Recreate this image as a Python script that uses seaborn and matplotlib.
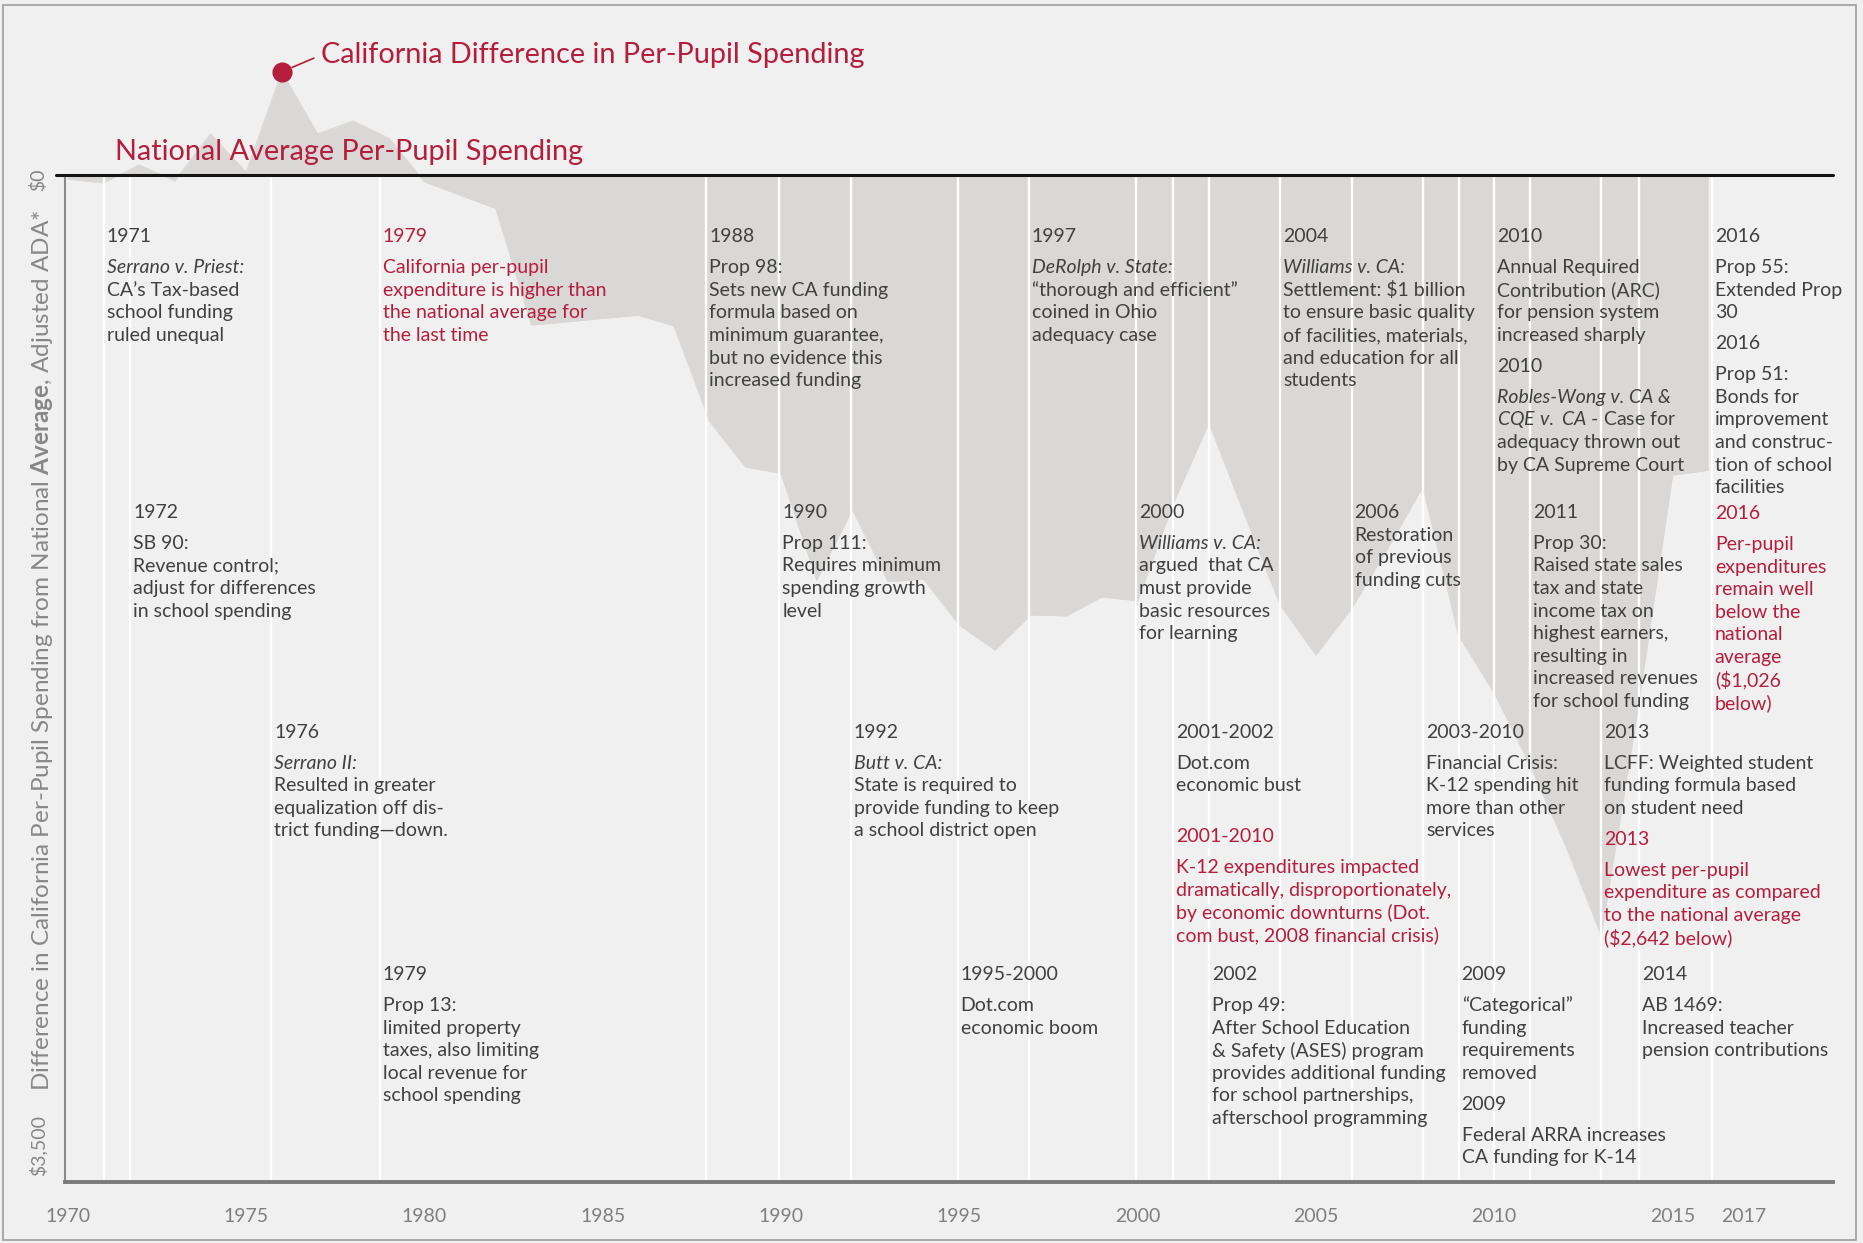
import matplotlib
matplotlib.use("Agg")
import matplotlib.pyplot as plt
from matplotlib.patches import Rectangle
import seaborn as sns

sns.set_style("white")
plt.rcParams["font.family"] = ["Lato", "DejaVu Sans"]
plt.rcParams["mathtext.fontset"] = "custom"
plt.rcParams["mathtext.rm"] = "Lato"
plt.rcParams["mathtext.it"] = "Lato:italic"
plt.rcParams["mathtext.bf"] = "Lato:bold"

BG = "#f0f0f0"
AREA = "#d9d8d6"
RED = "#b41e3c"
INK = "#404040"
GREY = "#878787"

# California per-pupil spending minus national average ($, adjusted ADA)
years = list(range(1970, 2017))
ca_diff = [
    -14, -27, 35, -20, 143, 10, 359, 143, 188, 128,          # 1970-79
    -23, -70, -116, -521, -510, -498, -487, -525, -857, -1014,  # 1980-89
    -1037, -1408, -1162, -1413, -1405, -1564, -1651, -1529, -1532, -1466,  # 1990-99
    -1480, -1140, -861, -1180, -1495, -1668, -1506, -1300, -1083, -1600,  # 2000-09
    -1800, -2050, -2330, -2642, -1880, -1043, -1026,          # 2010-16
]
peak_year = 1976
tick_years = [1970, 1975, 1980, 1985, 1990, 1995, 2000, 2005, 2010, 2015, 2017]

# timeline notes: (marker position, row, lines)
# line kinds: h header, H red header, t header w/o gap, b body, i italic, r red, m mixed
notes = [
    (1971.0, 1, [("h", "1971"), ("i", "Serrano v. Priest:"), ("b", "CA’s Tax-based"),
                 ("b", "school funding"), ("b", "ruled unequal")]),
    (1971.75, 2, [("h", "1972"), ("b", "SB 90:"), ("b", "Revenue control;"),
                  ("b", "adjust for differences"), ("b", "in school spending")]),
    (1975.7, 3, [("h", "1976"), ("i", "Serrano II:"), ("b", "Resulted in greater"),
                 ("b", "equalization off dis-"), ("b", "trict funding—down.")]),
    (1978.75, 1, [("H", "1979"), ("r", "California per-pupil"), ("r", "expenditure is higher than"),
                  ("r", "the national average for"), ("r", "the last time")]),
    (1978.75, 4, [("h", "1979"), ("b", "Prop 13:"), ("b", "limited property"),
                  ("b", "taxes, also limiting"), ("b", "local revenue for"), ("b", "school spending")]),
    (1987.9, 1, [("h", "1988"), ("b", "Prop 98:"), ("b", "Sets new CA funding"),
                 ("b", "formula based on"), ("b", "minimum guarantee,"),
                 ("b", "but no evidence this"), ("b", "increased funding")]),
    (1989.95, 2, [("h", "1990"), ("b", "Prop 111:"), ("b", "Requires minimum"),
                  ("b", "spending growth"), ("b", "level")]),
    (1991.95, 3, [("h", "1992"), ("i", "Butt v. CA:"), ("b", "State is required to"),
                  ("b", "provide funding to keep"), ("b", "a school district open")]),
    (1994.95, 4, [("h", "1995-2000"), ("b", "Dot.com"), ("b", "economic boom")]),
    (1996.95, 1, [("h", "1997"), ("i", "DeRolph v. State:"), ("b", "“thorough and efficient”"),
                  ("b", "coined in Ohio"), ("b", "adequacy case")]),
    (1999.95, 2, [("h", "2000"), ("i", "Williams v. CA:"), ("b", "argued  that CA"),
                  ("b", "must provide"), ("b", "basic resources"), ("b", "for learning")]),
    (2001.0, 3, [("h", "2001-2002"), ("b", "Dot.com"), ("b", "economic bust"), ("gap", 20),
                 ("H", "2001-2010"), ("r", "K-12 expenditures impacted"),
                 ("r", "dramatically, disproportionately,"), ("r", "by economic downturns (Dot."),
                 ("r", "com bust, 2008 financial crisis)")]),
    (2002.0, 4, [("h", "2002"), ("b", "Prop 49:"), ("b", "After School Education"),
                 ("b", "& Safety (ASES) program"), ("b", "provides additional funding"),
                 ("b", "for school partnerships,"), ("b", "afterschool programming")]),
    (2004.0, 1, [("h", "2004"), ("i", "Williams v. CA:"), ("b", r"Settlement: \$1 billion"),
                 ("b", "to ensure basic quality"), ("b", "of facilities, materials,"),
                 ("b", "and education for all"), ("b", "students")]),
    (2006.0, 2, [("t", "2006"), ("b", "Restoration"), ("b", "of previous"), ("b", "funding cuts")]),
    (2008.0, 3, [("h", "2003-2010"), ("b", "Financial Crisis:"), ("b", "K-12 spending hit"),
                 ("b", "more than other"), ("b", "services")]),
    (2009.0, 4, [("h", "2009"), ("b", "“Categorical”"), ("b", "funding"), ("b", "requirements"),
                 ("b", "removed"), ("h", "2009"), ("b", "Federal ARRA increases"),
                 ("b", "CA funding for K-14")]),
    (2010.0, 1, [("h", "2010"), ("b", "Annual Required"), ("b", "Contribution (ARC)"),
                 ("b", "for pension system"), ("b", "increased sharply"), ("h", "2010"),
                 ("i", "Robles-Wong v. CA &"), ("m", r"$\mathit{CQE\ v.\ CA}$ - Case for"),
                 ("b", "adequacy thrown out"), ("b", "by CA Supreme Court")]),
    (2011.0, 2, [("h", "2011"), ("b", "Prop 30:"), ("b", "Raised state sales"),
                 ("b", "tax and state"), ("b", "income tax on"), ("b", "highest earners,"),
                 ("b", "resulting in"), ("b", "increased revenues"), ("b", "for school funding")]),
    (2013.0, 3, [("h", "2013"), ("b", "LCFF: Weighted student"), ("b", "funding formula based"),
                 ("b", "on student need"), ("H", "2013"), ("r", "Lowest per-pupil"),
                 ("r", "expenditure as compared"), ("r", "to the national average"),
                 ("r", r"(\$2,642 below)")]),
    (2014.05, 4, [("h", "2014"), ("b", "AB 1469:"), ("b", "Increased teacher"),
                  ("b", "pension contributions")]),
    (2016.1, 1, [("h", "2016"), ("b", "Prop 55:"), ("b", "Extended Prop"), ("b", "30"),
                 ("h", "2016"), ("b", "Prop 51:"), ("b", "Bonds for"), ("b", "improvement"),
                 ("b", "and construc-"), ("b", "tion of school"), ("b", "facilities"), ("gap", -5),
                 ("H", "2016"), ("r", "Per-pupil"), ("r", "expenditures"), ("r", "remain well"),
                 ("r", "below the"), ("r", "national"), ("r", "average"), ("r", r"(\$1,026"),
                 ("r", "below)")]),
]

W, H = 1863, 1243
fig = plt.figure(figsize=(W / 100, H / 100), dpi=100)
fig.patch.set_facecolor(BG)
ax = fig.add_axes([65 / W, (H - 1182) / H, (1833 - 65) / W, (1182 - 20) / H])
ax.set_facecolor(BG)
ax.set_xlim(1969.92, 2019.5)
ax.set_ylim(-3500, 539)

ax.fill_between(years, ca_diff, 0, color=AREA, lw=0, zorder=1)
sns.lineplot(x=years, y=ca_diff, color=AREA, lw=0.8, ax=ax, zorder=1)

marker_x = sorted(set(n[0] for n in notes))
ax.vlines(marker_x, -3500, -8, colors="white", lw=1.7, zorder=2)
ax.axhline(0, xmin=-0.005, color="#151515", lw=2.2, zorder=4, clip_on=False)

peak_val = ca_diff[years.index(peak_year)]
ax.plot([peak_year], [peak_val], "o", ms=13.5, color=RED, zorder=6)
ax.annotate("California Difference in Per-Pupil Spending", xy=(peak_year, peak_val),
            xytext=(1977.1, 417), color=RED, fontsize=20.8, va="center", ha="left",
            arrowprops=dict(arrowstyle="-", color=RED, lw=1.2, shrinkA=3, shrinkB=8,
                            relpos=(0, 0.5)))
ax.text(1971.33, 80, "National Average Per-Pupil Spending", color=RED, fontsize=20.8,
        va="center", ha="left", zorder=5)

# notes
ROW = {1: 61.8, 2: 337.4, 3: 557.2, 4: 799.5}
LINE, HEAD = 22.6, 30.9
PX = 0.72
for x, row, lines in notes:
    off = ROW[row]
    prev = None
    for kind, txt in lines:
        if kind == "gap":
            off += txt
            continue
        if prev is not None:
            if kind in ("h", "H") or prev in ("h", "H"):
                off += HEAD
            else:
                off += LINE
        prev = kind
        color = RED if kind in ("H", "r") else INK
        style = "italic" if kind == "i" else "normal"
        ax.annotate(txt, xy=(x, 0), xytext=(3 * PX, -off * PX), textcoords="offset points",
                    ha="left", va="center", fontsize=14, color=color, fontstyle=style,
                    zorder=5)

# axes styling
for s in ("top", "right"):
    ax.spines[s].set_visible(False)
ax.spines["left"].set_bounds(-3500, 0)
ax.spines["left"].set_color("#8a8a8a")
ax.spines["left"].set_linewidth(1.5)
ax.spines["bottom"].set_color("#7a7a7a")
ax.spines["bottom"].set_linewidth(2.8)
ax.set_yticks([])
ax.set_xticks(tick_years)
ax.set_xticklabels([str(t) for t in tick_years])
ax.tick_params(axis="x", direction="out", length=10, width=0.8, color="#9a9a9a",
               labelcolor="#7f7f7f", labelsize=14, pad=9)
ax.set_xlabel("")
ax.set_ylabel("")

fig.text(38 / W, 1 - 180 / H, r"\$0", rotation=90, ha="center", va="center",
         color=GREY, fontsize=14)
fig.text(38 / W, 1 - 1145 / H, r"\$3,500", rotation=90, ha="center", va="center",
         color=GREY, fontsize=14)
fig.text(42 / W, 1 - 650 / H,
         r"Difference in California Per-Pupil Spending from National $\mathbf{Average}$, Adjusted ADA*",
         rotation=90, ha="center", va="center", color=GREY, fontsize=17.5)

fig.add_artist(Rectangle((3 / W, 3 / H), (1856 - 3) / W, (1240 - 5) / H,
                         transform=fig.transFigure, fill=False, ec="#9c9c9c", lw=1.2))

fig.savefig("out.png", dpi=100, facecolor=BG)
